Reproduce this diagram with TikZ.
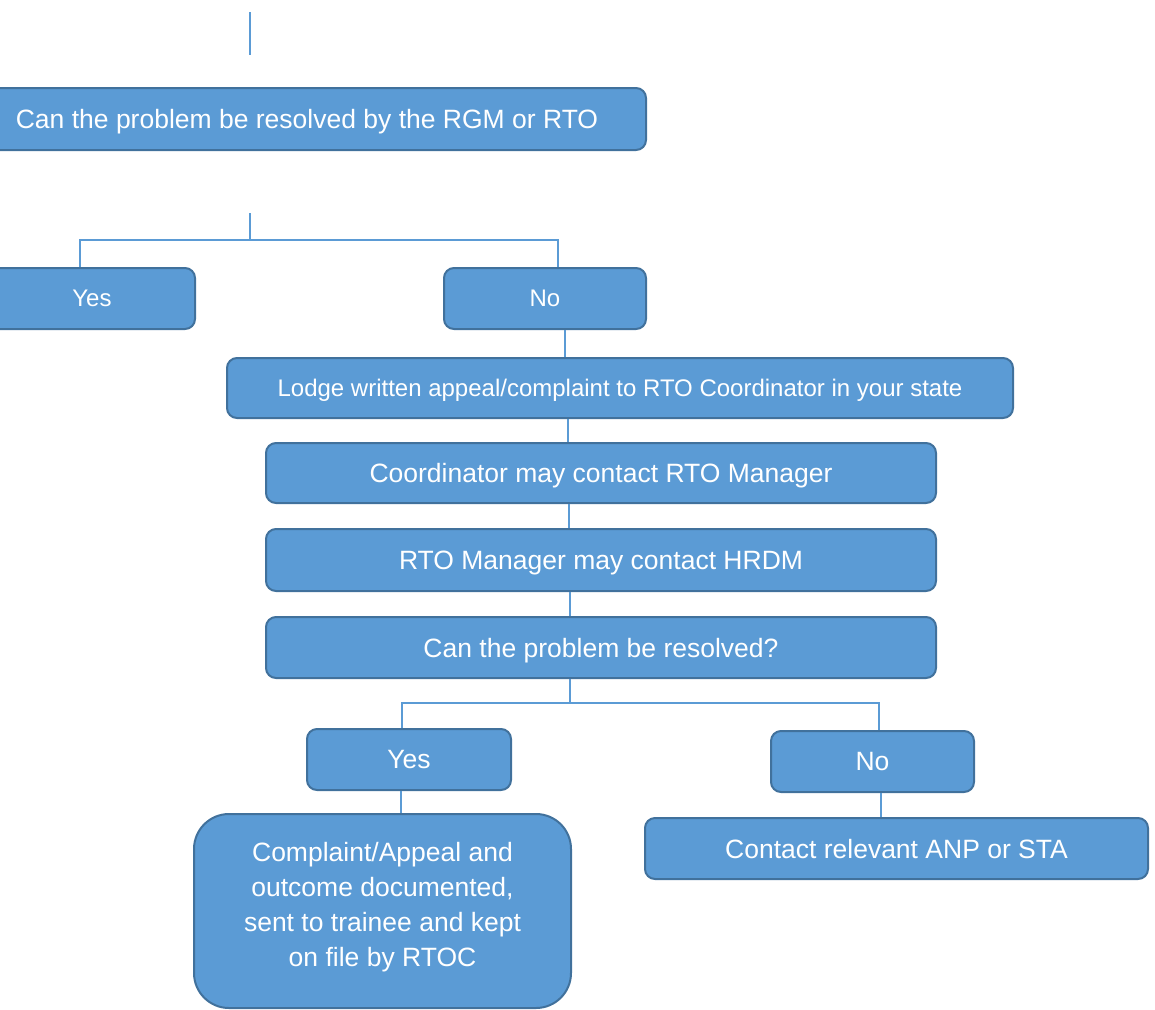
\documentclass[tikz,border=0pt]{standalone}
\usepackage{fontspec}
\setmainfont{Liberation Sans}
\definecolor{boxfill}{HTML}{5B9BD5}
\definecolor{boxline}{HTML}{41719C}
\definecolor{conn}{HTML}{5B9BD5}
\begin{document}
\begin{tikzpicture}[x=1pt,y=-1pt,
  flowbox/.style={draw=boxline, fill=boxfill, line width=2pt, rounded corners=10pt,
    text=white, inner sep=0pt, text depth=0pt, font=\fontsize{26.5}{32}\selectfont},
  smalltext/.style={font=\fontsize{24}{29}\selectfont},
  link/.style={draw=conn, line width=2.5pt}]
\useasboundingbox (0,0) rectangle (1155,1009);

% nodes
\node[flowbox, minimum width=678pt, minimum height=62pt] (q1) at (307,119) {Can the problem be resolved by the RGM or RTO};
\node[flowbox, smalltext, minimum width=206pt, minimum height=61pt] (yes1) at (92,298.5) {Yes};
\node[flowbox, smalltext, minimum width=202pt, minimum height=61pt] (no1) at (545,298.5) {No};
\node[flowbox, smalltext, minimum width=786pt, minimum height=60pt] (lodge) at (620,388) {Lodge written appeal/complaint to RTO Coordinator in your state};
\node[flowbox, minimum width=670pt, minimum height=60pt] (coord) at (601,473) {Coordinator may contact RTO Manager};
\node[flowbox, minimum width=670pt, minimum height=62pt] (mgr) at (601,560) {RTO Manager may contact HRDM};
\node[flowbox, minimum width=670pt, minimum height=61pt] (q2) at (601,647.5) {Can the problem be resolved?};
\node[flowbox, minimum width=204pt, minimum height=61pt] (yes2) at (409,759.5) {Yes};
\node[flowbox, minimum width=203pt, minimum height=61pt] (no2) at (872.5,761.5) {No};
\node[flowbox, rounded corners=35pt, minimum width=377pt, minimum height=194pt] (comp) at (382.5,911) {};
\node[text=white, font=\fontsize{26.5}{35}\selectfont, align=center, inner sep=0pt] (comptext) at (382.5,907)
  {Complaint/Appeal and\\outcome documented,\\sent to trainee and kept\\on file by RTOC};
\node[flowbox, minimum width=503pt, minimum height=61pt] (contact) at (896.5,848.5) {Contact relevant ANP or STA};

% free ends
\coordinate (t1) at (250,12);
\coordinate (t2) at (250,55);
\coordinate (s1) at (250,213);
\coordinate (b1) at (250,240);
\coordinate (b2) at (570,703);

% connectors
\draw[link] (t1) -- (t2);
\draw[link] (s1) -- (b1);
\draw[link] ([xshift=-12pt]yes1.north) |- (b1) -| ([xshift=13pt]no1.north);
\draw[link] ([xshift=20pt]no1.south) -- ([xshift=20pt]no1.south |- lodge.north);
\draw[link] (lodge.south -| 568,0) -- ([xshift=-33pt]coord.north);
\draw[link] (coord.south -| 569,0) -- ([xshift=-32pt]mgr.north);
\draw[link] (mgr.south -| 570,0) -- ([xshift=-31pt]q2.north);
\draw[link] ([xshift=-31pt]q2.south) -- (b2);
\draw[link] ([xshift=-7pt]yes2.north) |- (b2) -| ([xshift=6.5pt]no2.north);
\draw[link] ([xshift=-8pt]yes2.south) -- ([xshift=-8pt]yes2.south |- comp.north);
\draw[link] ([xshift=8.5pt]no2.south) -- ([xshift=8.5pt]no2.south |- contact.north);
\end{tikzpicture}
\end{document}
